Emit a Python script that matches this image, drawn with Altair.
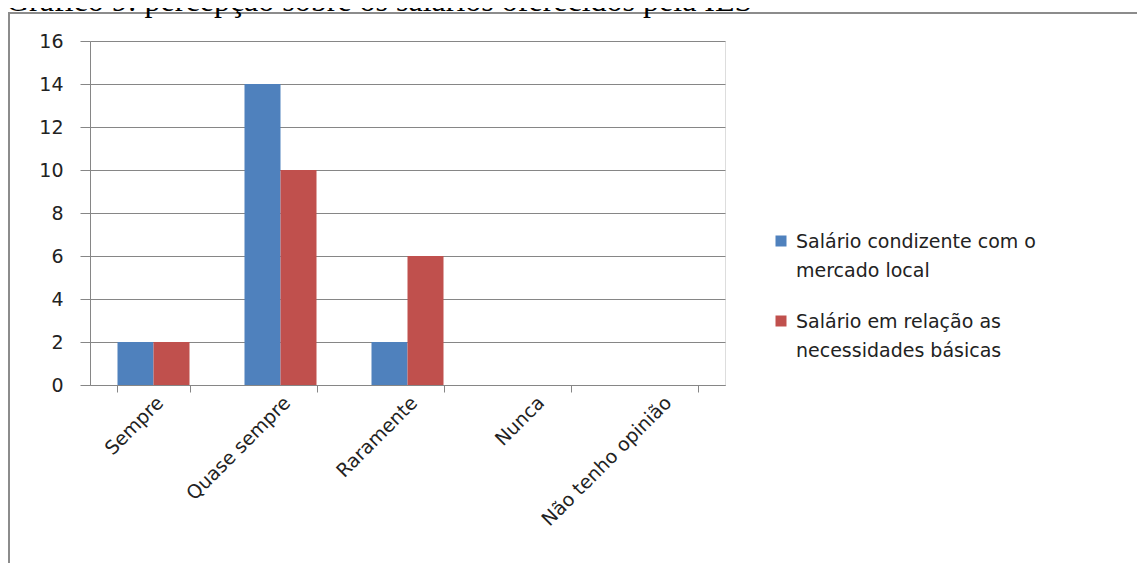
import altair as alt
import pandas as pd

categories = ["Sempre", "Quase sempre", "Raramente", "Nunca", "Não tenho opinião"]
series_lines = [
    ["Salário condizente com o", "mercado local"],
    ["Salário em relação as", "necessidades básicas"],
]
series_names = [" ".join(s) for s in series_lines]
values_mercado = [2, 14, 2, 0, 0]
values_necessidades = [2, 10, 6, 0, 0]
colors = ["#4F81BD", "#C0504D"]
y_ticks = [0, 2, 4, 6, 8, 10, 12, 14, 16]
title_text = "Gráfico 9: percepção sobre os salários oferecidos pela IES"

rows = []
for name, vals in zip(series_names, [values_mercado, values_necessidades]):
    for c, v in zip(categories, vals):
        rows.append({"categoria": c, "serie": name, "valor": v})
df = pd.DataFrame(rows)

legend_df = pd.DataFrame({
    "serie": series_names,
    "rotulo": ["\n".join(s) for s in series_lines],
})

W, H = 635, 344
PAD_L, PAD_T = 82, 33
TOTAL_W, TOTAL_H = 1129, 555

FONT = "DejaVu Sans"
FS = 19
TXT = "#222222"
GRAY = "#868686"

color_enc = alt.Color(
    "serie:N",
    sort=series_names,
    scale=alt.Scale(domain=series_names, range=colors),
    legend=None,
)

bars = alt.Chart(df).mark_bar().encode(
    x=alt.X(
        "categoria:N",
        sort=categories,
        scale=alt.Scale(paddingInner=0.433, paddingOuter=0.2165),
        axis=alt.Axis(
            title=None,
            labelAngle=-45,
            tickBand="extent",
            tickSize=7,
            labelPadding=1,
            labelLimit=400,
            domainColor=GRAY,
            tickColor=GRAY,
            labelFontSize=FS,
            labelFont=FONT,
            labelColor=TXT,
            grid=False,
        ),
    ),
    xOffset=alt.XOffset("serie:N", sort=series_names, scale=alt.Scale(paddingInner=0, paddingOuter=0)),
    y=alt.Y(
        "valor:Q",
        scale=alt.Scale(domain=[0, 16], nice=False),
        axis=alt.Axis(
            title=None,
            values=y_ticks,
            tickSize=10,
            labelPadding=17,
            domainColor=GRAY,
            tickColor=GRAY,
            gridColor=GRAY,
            labelFontSize=FS,
            labelFont=FONT,
            labelColor=TXT,
        ),
    ),
    color=color_enc,
)

legend_y = alt.Y(
    "serie:N",
    sort=series_names,
    scale=alt.Scale(domain=series_names, range=[200, 280], padding=0),
    axis=None,
)

legend_sq = alt.Chart(legend_df).mark_square(size=121, opacity=1).encode(
    x=alt.value(691),
    y=legend_y,
    color=color_enc,
)

legend_txt = alt.Chart(legend_df).mark_text(
    align="left", baseline="alphabetic", lineBreak="\n", lineHeight=29,
    font=FONT, fontSize=FS, color=TXT, dy=7,
).encode(
    x=alt.value(706),
    y=legend_y,
    text="rotulo:N",
)

title_layer = alt.Chart(pd.DataFrame({"t": [title_text]})).mark_text(
    align="left", baseline="alphabetic", font="Liberation Serif", fontSize=32, color="#000000"
).encode(text="t:N", x=alt.value(-PAD_L - 2), y=alt.value(3 - PAD_T))

frame = alt.Chart(pd.DataFrame({"a": [0]})).mark_rect(
    filled=False, stroke="#8c8c8c", strokeWidth=2
).encode(
    x=alt.value(-PAD_L + 1),
    x2=alt.value(TOTAL_W - PAD_L + 20),
    y=alt.value(5 - PAD_T),
    y2=alt.value(TOTAL_H + 50),
)

chart = alt.layer(frame, title_layer, bars, legend_sq, legend_txt).resolve_scale(
    y="independent"
).properties(
    width=W,
    height=H,
    autosize=alt.AutoSizeParams(type="none"),
    padding={"left": PAD_L, "top": PAD_T, "right": TOTAL_W - PAD_L - W, "bottom": TOTAL_H - PAD_T - H},
).configure_view(strokeWidth=0).configure(background="white")

chart.save("out.html", embed_options={"renderer": "svg", "actions": False})
